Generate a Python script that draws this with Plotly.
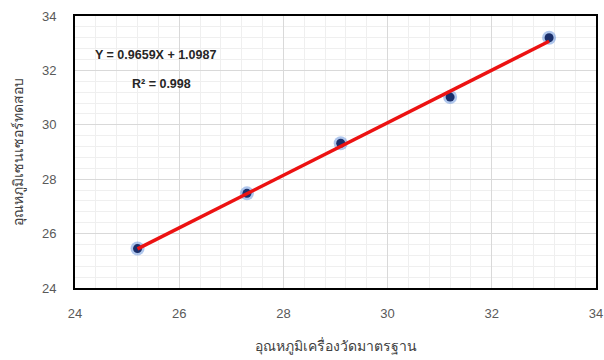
import plotly.graph_objects as go

x_ref = [25.2, 27.3, 29.1, 31.2, 33.1]
y_sensor = [25.45, 27.48, 29.32, 31.02, 33.2]
slope = 0.9659
intercept = 1.0987
r2 = 0.998
x_ticks = [24, 26, 28, 30, 32, 34]
y_ticks = [24, 26, 28, 30, 32, 34]

fit_x = [min(x_ref), max(x_ref)]
fit_y = [slope * v + intercept for v in fit_x]

fig = go.Figure()
fig.add_trace(go.Scatter(x=x_ref, y=y_sensor, mode="markers",
                         marker=dict(size=14, color="rgba(80,130,215,0.45)"),
                         hoverinfo="skip", showlegend=False))
fig.add_trace(go.Scatter(x=x_ref, y=y_sensor, mode="markers",
                         marker=dict(size=9, color="#1a2f6b"), showlegend=False))
fig.add_trace(go.Scatter(x=fit_x, y=fit_y, mode="lines",
                         line=dict(color="#ec1212", width=3.5), showlegend=False))

axis_common = dict(
    showgrid=True, gridcolor="#d9d9d9", gridwidth=1,
    minor=dict(dtick=0.4, showgrid=True, gridcolor="#efefef", gridwidth=1),
    showline=True, linecolor="black", linewidth=2, mirror=True,
    ticks="", zeroline=False, automargin=False, ticklabeloverflow="allow",
    tickfont=dict(family="Liberation Sans, Arial", size=13, color="#595959"),
)

fig.update_layout(
    width=604, height=360,
    margin=dict(l=75, r=8, t=16, b=72),
    paper_bgcolor="white", plot_bgcolor="white",
    xaxis=dict(range=[24, 34], tickvals=x_ticks, ticklabelstandoff=12,
               title=dict(text="อุณหภูมิเครื่องวัดมาตรฐาน", standoff=22,
                          font=dict(family="Noto Sans, Liberation Sans", size=14, color="#404040")),
               **axis_common),
    yaxis=dict(range=[24, 34], tickvals=y_ticks, ticklabelstandoff=14,
               title=dict(text="อุณหภูมิเซนเซอร์ทดสอบ",
                          font=dict(family="Noto Sans, Liberation Sans", size=14, color="#404040")),
               **axis_common),
    annotations=[
        dict(x=0.035, y=0.855, xref="paper", yref="paper", xanchor="left", yanchor="middle",
             text=f"<b>Y = {slope}X + {intercept}</b>", showarrow=False,
             font=dict(family="Liberation Sans, Arial", size=12.5, color="#262626")),
        dict(x=0.105, y=0.75, xref="paper", yref="paper", xanchor="left", yanchor="middle",
             text=f"<b>R² = {r2}</b>", showarrow=False,
             font=dict(family="Liberation Sans, Arial", size=12.5, color="#262626")),
    ],
)

fig.write_html("out.html", config={"displayModeBar": False},
               post_script="document.body.style.margin='0';document.body.style.overflow='hidden';")
